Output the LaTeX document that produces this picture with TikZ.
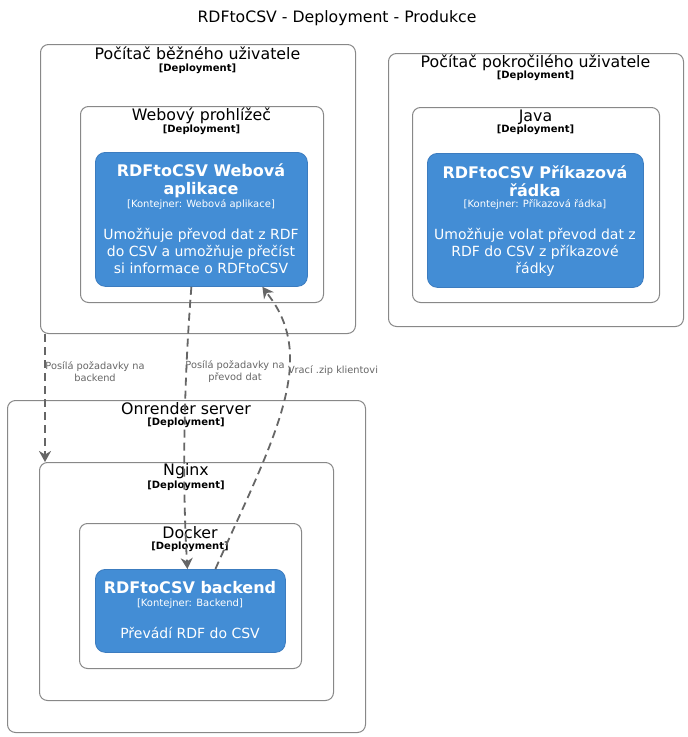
\documentclass[tikz,border=0pt]{standalone}
\usepackage{fontspec}
\setmainfont{DejaVu Sans}
\usetikzlibrary{arrows.meta,calc}
\definecolor{cblue}{HTML}{438DD5}
\definecolor{cblueb}{HTML}{3C7CBF}
\definecolor{cgray}{HTML}{888888}
\definecolor{arrowc}{HTML}{666666}
\tikzset{
 container/.style={draw=cgray, line width=1pt, rounded corners=8pt, inner sep=0pt, anchor=north west},
 cont/.style={draw=cblueb, fill=cblue, line width=0.8pt, rounded corners=10pt, inner sep=0pt, anchor=north west},
 ctitle/.style={font=\fontsize{15.8}{18}\selectfont, text=black, inner sep=0pt},
 cdep/.style={font=\bfseries\fontsize{10}{12}\selectfont, text=black, inner sep=0pt},
 btitle/.style={font=\bfseries\fontsize{16}{18}\selectfont, text=white, align=center, inner sep=0pt},
 btech/.style={font=\fontsize{10}{12}\selectfont, text=white, inner sep=0pt},
 bdesc/.style={font=\fontsize{14}{17}\selectfont, text=white, align=center, inner sep=0pt},
 rel/.style={draw=arrowc, line width=1.8pt, dash pattern=on 8pt off 5pt, -{Stealth[length=11pt,width=12pt,inset=3.5pt]}},
 rlabel/.style={font=\fontsize{9.8}{12}\selectfont, text=arrowc, align=center, inner sep=0pt},
}
\begin{document}
\begin{tikzpicture}[x=1pt,y=-1pt]
\useasboundingbox (0,0) rectangle (688,737);
\node[font=\fontsize{15.7}{18}\selectfont, inner sep=0pt] (title) at (337,18) {RDFtoCSV - Deployment - Produkce};

% Pocitac bezneho uzivatele
\node[container, minimum width=315pt, minimum height=289pt] (pc1) at (40,44) {};
\node[ctitle] (pc1t) at (197.5,53) {Počítač běžného uživatele};
\node[cdep] (pc1d) at (197.5,69) {[Deployment]};
\node[container, minimum width=243pt, minimum height=196pt] (wb) at (80,106) {};
\node[ctitle] (wbt) at (201.5,116) {Webový prohlížeč};
\node[cdep] (wbd) at (201.5,130) {[Deployment]};
\node[cont, minimum width=212pt, minimum height=134pt] (web) at (95,152) {};
\node[btitle] (webt) at (201,181) {RDFtoCSV Webová\\aplikace};
\node[btech] (webk) at (201,205) {[Kontejner: Webová aplikace]};
\node[bdesc] (webd) at (201,251) {Umožňuje převod dat z RDF\\do CSV a umožňuje přečíst\\si informace o RDFtoCSV};

% Pocitac pokrociloho uzivatele
\node[container, minimum width=295pt, minimum height=273pt] (pc2) at (388,53) {};
\node[ctitle] (pc2t) at (535.5,63) {Počítač pokročilého uživatele};
\node[cdep] (pc2d) at (535.5,76) {[Deployment]};
\node[container, minimum width=247pt, minimum height=195pt] (java) at (412,107) {};
\node[ctitle] (javat) at (535.5,117) {Java};
\node[cdep] (javad) at (535.5,130) {[Deployment]};
\node[cont, minimum width=216pt, minimum height=134pt] (cli) at (427,153) {};
\node[btitle] (clit) at (535,181.5) {RDFtoCSV Příkazová\\řádka};
\node[btech] (clik) at (535,205) {[Kontejner: Příkazová řádka]};
\node[bdesc] (clid) at (535,252) {Umožňuje volat převod dat z\\RDF do CSV z příkazové\\řádky};

% Onrender server
\node[container, minimum width=358pt, minimum height=332pt] (onr) at (7,400) {};
\node[ctitle] (onrt) at (186,409) {Onrender server};
\node[cdep] (onrd) at (186,423) {[Deployment]};
\node[container, minimum width=294pt, minimum height=238pt] (nginx) at (39,462) {};
\node[ctitle] (nginxt) at (186,471) {Nginx};
\node[cdep] (nginxd) at (186,486) {[Deployment]};
\node[container, minimum width=222pt, minimum height=145pt] (docker) at (79,523) {};
\node[ctitle] (dockert) at (190,533) {Docker};
\node[cdep] (dockerd) at (190,547) {[Deployment]};
\node[cont, minimum width=190pt, minimum height=83pt] (backend) at (95,569) {};
\node[btitle] (backendt) at (190,588) {RDFtoCSV backend};
\node[btech] (backendk) at (190,604) {[Kontejner: Backend]};
\node[bdesc] (backendd) at (190,633) {Převádí RDF do CSV};

% relations
\draw[rel] ($(pc1.south west)+(5,0)$) -- ($(nginx.north west)+(6,0)$);
\node[rlabel] (l1) at (95,372) {Posílá požadavky na\\backend};

\draw[rel] ($(web.south)+(-10,0)$) .. controls (184,380) and (182,480) .. ($(backend.north)+(-3,0)$);
\node[rlabel] (l2) at (235,372) {Posílá požadavky na\\převod dat};

\draw[rel] ($(backend.north)+(25,0)$) .. controls (255,480) and (292,410) .. (290,355) .. controls (289,320) and (272,300) .. ($(web.south)+(61,0)$);
\node[rlabel] (l3) at (333,371) {Vrací .zip klientovi};
\end{tikzpicture}
\end{document}
